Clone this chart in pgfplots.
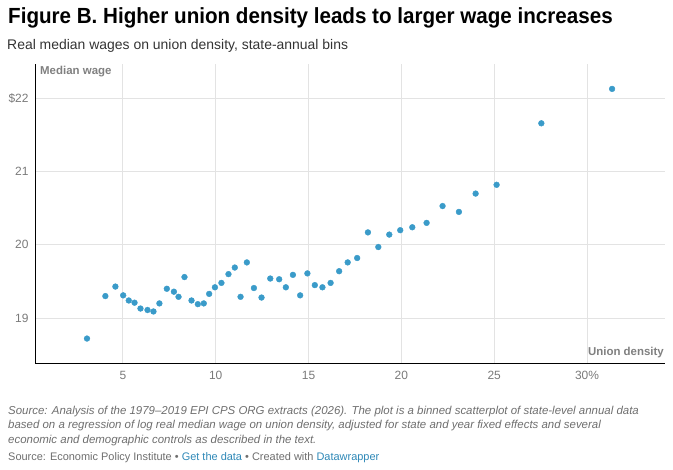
\documentclass[border=0pt]{standalone}
\usepackage{fontspec}
\setmainfont{Liberation Sans}
\usepackage{pgfplots}
\pgfplotsset{compat=1.18}
\definecolor{dot}{HTML}{3A9BC9}
\definecolor{gridc}{HTML}{E3E3E3}
\definecolor{tickc}{HTML}{7A7A7A}
\definecolor{labc}{HTML}{808080}
\definecolor{subc}{HTML}{333333}
\definecolor{notec}{HTML}{6E6E6E}
\definecolor{linkc}{HTML}{2E88B7}
\begin{document}
\begin{tikzpicture}[x=1bp,y=1bp]
\path[use as bounding box] (0,0) rectangle (673,-470);
\node[anchor=base west, inner sep=0, font=\bfseries\fontsize{22}{26}\selectfont] at (8,-23.5) {\scalebox{0.94}[1]{Figure B. Higher union density leads to larger wage increases}};
\node[anchor=base west, inner sep=0, text=subc, font=\fontsize{14}{16}\selectfont] at (7,-50) {Real median wages on union density, state-annual bins};
\begin{axis}[at={(35bp,-363bp)}, anchor=south west, scale only axis,
  width=630bp, height=299bp,
  xmin=0.27, xmax=34.2, ymin=18.386, ymax=22.47,
  axis x line*=bottom, axis y line*=left,
  axis line style={black, line width=0.9bp, -},
  xtick={5,10,15,20,25,30}, xticklabels={5,10,15,20,25,30\%},
  ytick={19,20,21,22}, yticklabels={19,20,21,\$22},
  grid=major, major grid style={gridc, line width=0.8bp},
  major tick length=0pt,
  tick label style={font=\fontsize{12}{14}\selectfont, text=tickc},
  xticklabel style={yshift=-5bp},
  yticklabel style={xshift=-3bp},
  /pgf/number format/assume math mode=true,
  clip=false]
\addplot[only marks, mark=*, mark size=2.9bp, color=dot, mark options={draw=dot, fill=dot}] coordinates {
(3.07,18.72) (4.06,19.30) (4.60,19.43) (5.02,19.31) (5.32,19.24) (5.63,19.21)
(5.95,19.13) (6.33,19.11) (6.65,19.09) (6.97,19.20) (7.37,19.40) (7.75,19.36)
(8.00,19.29) (8.32,19.56) (8.70,19.24) (9.04,19.19) (9.36,19.20) (9.65,19.33)
(9.96,19.42) (10.31,19.48) (10.69,19.60) (11.03,19.69) (11.34,19.29) (11.68,19.76)
(12.06,19.41) (12.47,19.28) (12.94,19.54) (13.42,19.53) (13.78,19.42) (14.16,19.59)
(14.55,19.31) (14.94,19.61) (15.34,19.45) (15.75,19.42) (16.19,19.48) (16.65,19.64)
(17.11,19.76) (17.62,19.82) (18.20,20.17) (18.76,19.97) (19.35,20.14) (19.94,20.20)
(20.59,20.24) (21.36,20.30) (22.22,20.53) (23.10,20.45) (24.00,20.70) (25.13,20.82)
(27.54,21.66) (31.35,22.13)
};
\end{axis}
\node[anchor=base west, inner sep=0, text=labc, font=\bfseries\fontsize{11.5}{14}\selectfont] at (40,-75) {Median wage};
\node[anchor=base east, inner sep=0, text=labc, font=\bfseries\fontsize{11.5}{14}\selectfont] at (664,-355.5) {Union density};
\begin{scope}[every node/.style={anchor=base west, inner sep=0, text=notec, font=\itshape\fontsize{11.5}{14}\selectfont}]
\node at (8,-414) {Source: Analysis of the 1979--2019 EPI CPS ORG extracts (2026). The plot is a binned scatterplot of state-level annual data};
\node at (8,-428.5) {based on a regression of log real median wage on union density, adjusted for state and year fixed effects and several};
\node at (8,-443) {economic and demographic controls as described in the text.};
\end{scope}
\node[anchor=base west, inner sep=0, text=notec, font=\fontsize{11}{14}\selectfont] at (8,-460) {Source: Economic Policy Institute • \textcolor{linkc}{Get the data} • Created with \textcolor{linkc}{Datawrapper}};
\end{tikzpicture}
\end{document}
